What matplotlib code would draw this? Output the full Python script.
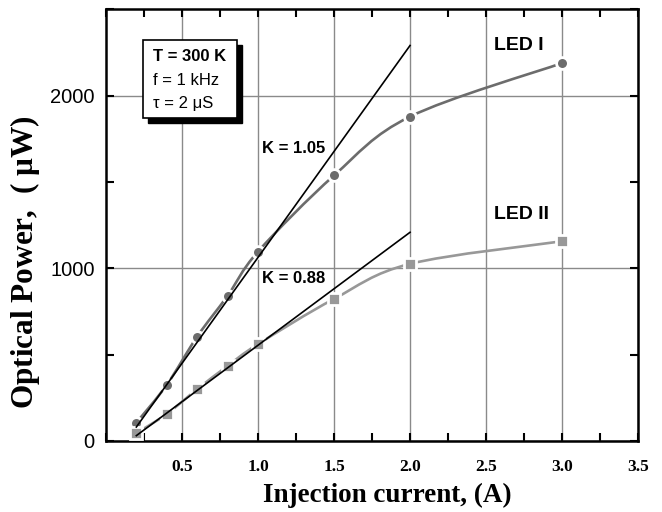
import numpy as np
import matplotlib
matplotlib.use("Agg")
import matplotlib.pyplot as plt
from matplotlib.path import Path
from matplotlib.patches import PathPatch, Rectangle
from matplotlib.ticker import MultipleLocator

# measured points (A, uW)
current = [0.2, 0.4, 0.6, 0.8, 1.0, 1.5, 2.0, 3.0]
led1 = [105, 324, 604, 840, 1096, 1537, 1878, 2188]
led2 = [44, 156, 299, 434, 560, 822, 1025, 1156]

# linear fits at low current
fit_x = [0.2, 2.0]
fit1 = [80, 2290]
fit2 = [30, 1208]

xticks = [0.5, 1.0, 1.5, 2.0, 2.5, 3.0, 3.5]
xticklabels = ["0.5", "1.0", "1.5", "2.0", "2.5", "3.0", "3.5"]
yticks = [0, 1000, 2000]


def smooth_path(xs, ys):
    # catmull-rom -> cubic bezier, drawn by matplotlib
    p = np.column_stack([xs, ys]).astype(float)
    verts = [p[0]]
    codes = [Path.MOVETO]
    n = len(p)
    for i in range(n - 1):
        p0 = p[i - 1] if i > 0 else p[i]
        p3 = p[i + 2] if i + 2 < n else p[i + 1]
        c1 = p[i] + (p[i + 1] - p0) / 6.0
        c2 = p[i + 1] - (p3 - p[i]) / 6.0
        verts += [c1, c2, p[i + 1]]
        codes += [Path.CURVE4] * 3
    return Path(verts, codes)


fig = plt.figure(figsize=(6.62, 5.12), dpi=100)
ax = fig.add_axes([0.160, 0.139, 0.804, 0.843])
ax.set_xlim(0, 3.5)
ax.set_ylim(0, 2500)

ax.grid(True, which="major", color="#8a8a8a", linewidth=1.0)
ax.set_axisbelow(True)

c1 = "#6c6c6c"
c2 = "#989898"
ax.add_patch(PathPatch(smooth_path(current, led1), fill=False, edgecolor=c1, lw=1.9, zorder=2))
ax.add_patch(PathPatch(smooth_path(current, led2), fill=False, edgecolor=c2, lw=1.9, zorder=2))

ax.plot(current, led1, "o", ms=8.5, mfc=c1, mec="white", mew=2.0, zorder=3)
ax.plot(current, led2, "s", ms=8.0, mfc=c2, mec="white", mew=2.0, zorder=3)

ax.plot(fit_x, fit1, color="black", lw=1.2, zorder=4)
ax.plot(fit_x, fit2, color="black", lw=1.2, zorder=4)

ax.xaxis.set_minor_locator(MultipleLocator(0.25))
ax.yaxis.set_minor_locator(MultipleLocator(500))
ax.set_xticks(xticks)
ax.set_xticklabels(xticklabels, fontfamily="Liberation Serif", fontweight="bold", fontsize=12.5)
ax.set_yticks(yticks)
ax.set_yticklabels([str(v) for v in yticks], fontfamily="Liberation Sans", fontsize=14.5)
ax.tick_params(which="both", direction="in", top=True, right=True, length=6, width=1.5)
ax.tick_params(axis="x", pad=13)
ax.tick_params(axis="y", pad=8)
for s in ax.spines.values():
    s.set_linewidth(1.8)

ax.set_xlabel("Injection current, (A)", fontfamily="Liberation Serif", fontweight="bold", fontsize=19.5)
ax.xaxis.set_label_coords(0.528, -0.098)
ax.set_ylabel("Optical Power,  ( $\\mathregular{\\mu}$W)", fontfamily="Liberation Serif", fontweight="bold",
              fontsize=22.5)
ax.yaxis.set_label_coords(-0.121, 0.413)

# info box with shadow
ax.add_patch(Rectangle((0.080, 0.736), 0.1756, 0.181, transform=ax.transAxes, facecolor="black",
                       edgecolor="black", zorder=5))
ax.add_patch(Rectangle((0.070, 0.748), 0.1756, 0.181, transform=ax.transAxes, facecolor="white",
                       edgecolor="black", lw=1.2, zorder=6))
ax.text(0.089, 0.890, "T = 300 K", transform=ax.transAxes, fontfamily="Liberation Sans",
        fontweight="bold", fontsize=12, va="center", zorder=7)
ax.text(0.089, 0.835, "f = 1 kHz", transform=ax.transAxes, fontfamily="Liberation Sans",
        fontsize=12, va="center", zorder=7)
ax.text(0.089, 0.781, "\u03c4 = 2 \u03bcS", transform=ax.transAxes, fontfamily="Liberation Sans",
        fontsize=12, va="center", zorder=7)

lab = dict(fontfamily="Liberation Sans", fontweight="bold", va="center", ha="left")
ax.text(0.293, 0.677, "K = 1.05", transform=ax.transAxes, fontsize=12, **lab)
ax.text(0.293, 0.375, "K = 0.88", transform=ax.transAxes, fontsize=12, **lab)
ax.text(0.729, 0.917, "LED I", transform=ax.transAxes, fontsize=14, **lab)
ax.text(0.729, 0.524, "LED II", transform=ax.transAxes, fontsize=14, **lab)

fig.savefig("out.png", dpi=100)
